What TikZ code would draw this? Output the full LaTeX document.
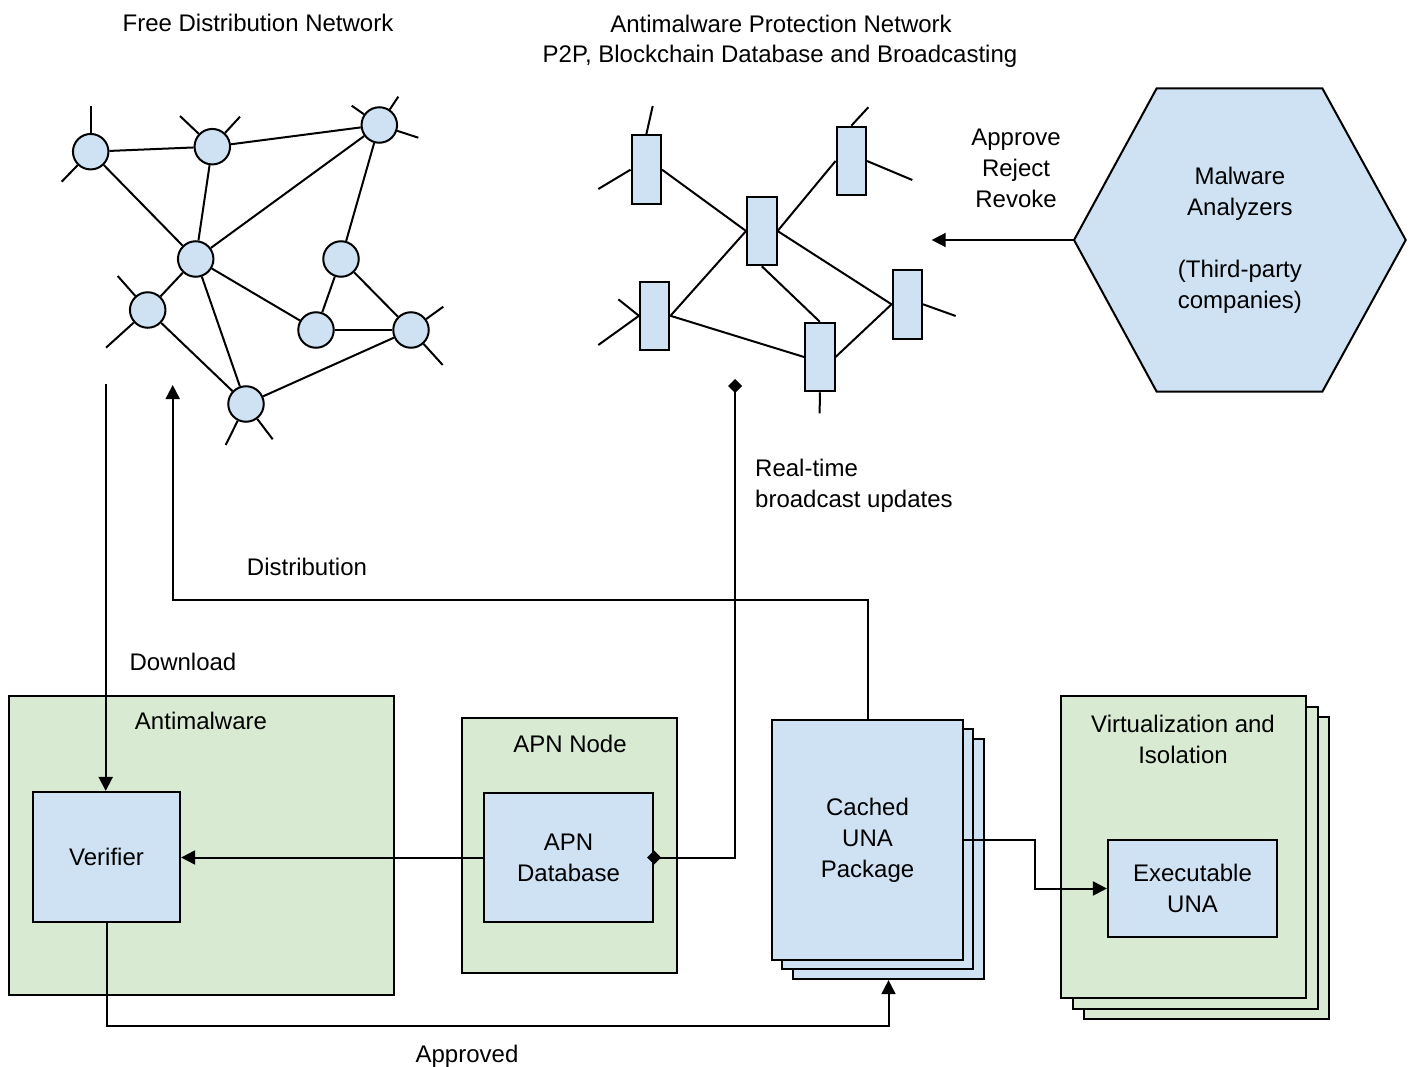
\documentclass[tikz,border=0pt]{standalone}
\usepackage{fontspec}
\setmainfont{Liberation Sans}
\usetikzlibrary{arrows.meta,shapes.geometric,calc}
\definecolor{bluef}{HTML}{CFE2F3}
\definecolor{greenf}{HTML}{D9EAD3}
\begin{document}
\begin{tikzpicture}[x=1pt,y=-1pt,
  ln/.style={line width=2pt},
  txt/.style={font=\fontsize{24}{31}\selectfont, align=center, inner sep=0pt},
  ltxt/.style={font=\fontsize{24}{31}\selectfont, align=left, inner sep=0pt},
  circ/.style={circle, draw, fill=bluef, line width=2pt, minimum size=35.5pt, inner sep=0pt},
  rnode/.style={rectangle, draw, fill=bluef, line width=2pt, minimum width=29.5pt, minimum height=68.5pt, inner sep=0pt},
  gbox/.style={rectangle, draw, fill=greenf, line width=2.2pt, inner sep=0pt},
  bbox/.style={rectangle, draw, fill=bluef, line width=2.2pt, inner sep=0pt, font=\fontsize{24}{31}\selectfont, align=center},
  arr/.style={line width=2pt, -{Triangle[length=14pt,width=14pt]}},
  dia/.style={line width=2pt, {Diamond[length=14pt,width=14pt]}-{Diamond[length=14pt,width=14pt]}, shorten <=-7pt}
]
\useasboundingbox (0,0) rectangle (1412,1067);

% titles
\node[txt] (t1) at (258,23) {Free Distribution Network};
\node[txt] (t2) at (781,24) {Antimalware Protection Network};
\node[txt] (t3) at (780,56) {P2P, Blockchain Database and Broadcasting};

% free distribution network
\node[circ] (c1) at (90.7,151.7) {};
\node[circ] (c2) at (212.3,146.7) {};
\node[circ] (c3) at (379.3,125) {};
\node[circ] (c4) at (195.7,259) {};
\node[circ] (c5) at (341,259) {};
\node[circ] (c6) at (147.7,310) {};
\node[circ] (c7) at (316,330) {};
\node[circ] (c8) at (411,330) {};
\node[circ] (c9) at (246,404) {};
\draw[ln] (c1) -- (c2);
\draw[ln] (c2) -- (c3);
\draw[ln] (c1) -- (c4);
\draw[ln] (c2) -- (c4);
\draw[ln] (c3) -- (c4);
\draw[ln] (c3) -- (c5);
\draw[ln] (c4) -- (c6);
\draw[ln] (c4) -- (c7);
\draw[ln] (c4) -- (c9);
\draw[ln] (c5) -- (c7);
\draw[ln] (c5) -- (c8);
\draw[ln] (c7) -- (c8);
\draw[ln] (c6) -- (c9);
\draw[ln] (c8) -- (c9);
% stubs
\draw[ln] (c1) -- (90.7,105.7);
\draw[ln] (c1) -- (61.7,181.7);
\draw[ln] (c2) -- (180,116);
\draw[ln] (c2) -- (240,116.7);
\draw[ln] (c3) -- (351.7,105.7);
\draw[ln] (c3) -- (398.3,96.7);
\draw[ln] (c3) -- (418.3,137.7);
\draw[ln] (c6) -- (117.7,276);
\draw[ln] (c6) -- (106,347.7);
\draw[ln] (c8) -- (443.3,306.7);
\draw[ln] (c8) -- (442.7,365);
\draw[ln] (c9) -- (225.7,445);
\draw[ln] (c9) -- (272.7,439.3);

% antimalware protection network
\node[rnode] (r1) at (646.3,169.7) {};
\node[rnode] (r2) at (761.8,231) {};
\node[rnode] (r3) at (851.3,161) {};
\node[rnode] (r4) at (654.7,315.8) {};
\node[rnode] (r5) at (819.8,357) {};
\node[rnode] (r6) at (907.3,304.3) {};
\draw[ln] (r1.east) -- (r2.west);
\draw[ln] (r2.east) -- (r3.west);
\draw[ln] (r2.west) -- (r4.east);
\draw[ln] (r2.south) -- (r5.north);
\draw[ln] (r2.east) -- (r6.west);
\draw[ln] (r4.east) -- (r5.west);
\draw[ln] (r5.east) -- (r6.west);
\draw[ln] (r1.north) -- (652.7,106);
\draw[ln] (r1.west) -- (598.3,189);
\draw[ln] (r3.north) -- (868.3,107.3);
\draw[ln] (r3.east) -- (912.3,180);
\draw[ln] (r4.west) -- (618.3,299.3);
\draw[ln] (r4.west) -- (598.3,345);
\draw[ln] (r5.south) -- (819.7,413.3);
\draw[ln] (r6.east) -- (955.7,316);

% malware analyzers hexagon
\draw[line width=2pt, fill=bluef] (1074,240) -- (1156.7,88.3) -- (1322.3,88.3) -- (1405.7,240) -- (1322.3,391.7) -- (1156.7,391.7) -- cycle;
\node[txt, minimum width=331.7pt, minimum height=303.4pt] (hex) at (1239.9,240) {Malware\\Analyzers\\[31pt](Third-party\\companies)};
\coordinate (apnin) at (931.7,240);
\draw[arr] (hex.west) -- (apnin);
\node[txt] (arr-lbl) at (1016,168.5) {Approve\\Reject\\Revoke};

% bottom boxes
\node[gbox, minimum width=385pt, minimum height=299pt] (am) at (201.5,845.5) {};
\node[txt] (amlbl) at (201,721) {Antimalware};
\node[bbox, minimum width=147pt, minimum height=130pt] (ver) at (106.5,857) {Verifier};

\node[gbox, minimum width=215pt, minimum height=255pt] (apn) at (569.5,845.5) {};
\node[txt] (apnlbl) at (570,744) {APN Node};
\node[bbox, minimum width=169pt, minimum height=129pt] (db) at (568.5,857.5) {APN\\Database};

\node[bbox, minimum width=191pt, minimum height=240pt] (cu3) at (888.5,859) {};
\node[bbox, minimum width=191pt, minimum height=240pt] (cu2) at (877.5,849) {};
\node[bbox, minimum width=191pt, minimum height=240pt] (cu1) at (867.5,840) {Cached\\UNA\\Package};

\node[gbox, minimum width=245pt, minimum height=302pt] (vi3) at (1206.5,868) {};
\node[gbox, minimum width=245pt, minimum height=302pt] (vi2) at (1195.5,858) {};
\node[gbox, minimum width=245pt, minimum height=302pt] (vi1) at (1183.5,847) {};
\node[txt] (vilbl) at (1183,739) {Virtualization and\\Isolation};
\node[bbox, minimum width=169pt, minimum height=97pt] (exe) at (1192.5,888.5) {Executable\\UNA};

% connectors
\coordinate (dlstart) at (105.7,384);
\draw[arr] (dlstart) -- (dlstart |- ver.north);
\node[txt] (dllbl) at (183,662) {Download};

\coordinate (distend) at (172.7,385);
\draw[arr] (cu1.north) -- (867.5,600) -- (172.7,600) -- (distend);
\node[txt] (distlbl) at (307,567) {Distribution};

\draw[arr] (ver.south) -- (106.5,1026) -- (888.5,1026) -- (cu3.south);
\node[txt] (applbl) at (467,1056) {Approved};

\draw[arr] (db.west) -- (db.west -| ver.east);

\coordinate (rtend) at (735,379);
\draw[dia] (db.east) -- (735,857.5) -- (rtend);
\node[ltxt, anchor=west] (rtlbl) at (755,486) {Real-time\\broadcast updates};

\draw[arr] (cu1.east) -- (1035,840) -- (1035,888.5) -- (exe.west);
\end{tikzpicture}
\end{document}
